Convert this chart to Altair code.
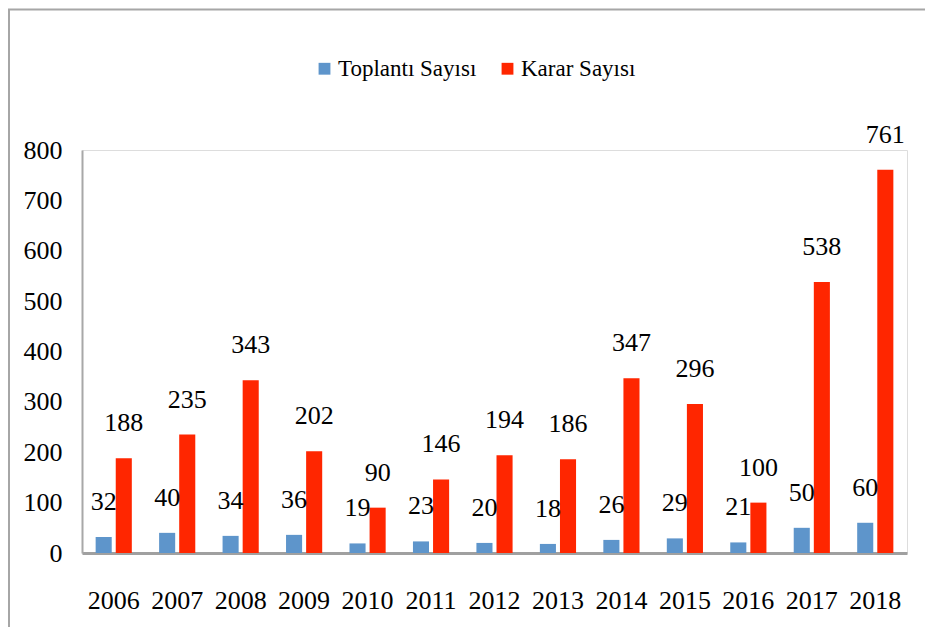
import altair as alt
import pandas as pd

years = ["2006", "2007", "2008", "2009", "2010", "2011", "2012", "2013",
         "2014", "2015", "2016", "2017", "2018"]
toplanti = [32, 40, 34, 36, 19, 23, 20, 18, 26, 29, 21, 50, 60]
karar = [188, 235, 343, 202, 90, 146, 194, 186, 347, 296, 100, 538, 761]
series = ["Toplantı Sayısı", "Karar Sayısı"]
colors = ["#5e95cb", "#ff2600"]
y_ticks = [0, 100, 200, 300, 400, 500, 600, 700, 800]

rows = []
for i, yr in enumerate(years):
    rows.append({"Yıl": yr, "Seri": series[0], "Değer": toplanti[i]})
    rows.append({"Yıl": yr, "Seri": series[1], "Değer": karar[i]})
df = pd.DataFrame(rows)

FONT = "Liberation Serif, serif"
FS = 26
W, H = 825, 403

x = alt.X("Yıl:N", sort=years, title=None,
          scale=alt.Scale(paddingInner=0.43, paddingOuter=0.215),
          axis=alt.Axis(labelAngle=0, ticks=False, labelPadding=34,
                        labelFontSize=FS, labelFont=FONT, labelColor="#000000",
                        domainColor="#a0a0a0", domainWidth=3))
xoff = alt.XOffset("Seri:N", sort=series, scale=alt.Scale(paddingInner=0.2))
y = alt.Y("Değer:Q", title=None,
          scale=alt.Scale(domain=[0, 800], nice=False),
          axis=alt.Axis(values=y_ticks, grid=False, ticks=False, labelPadding=20,
                        labelFontSize=FS, labelFont=FONT, labelColor="#000000",
                        domainColor="#a8a8a8", domainWidth=2))
color = alt.Color("Seri:N", sort=series,
                  scale=alt.Scale(domain=series, range=colors),
                  legend=alt.Legend(title=None, orient="none", direction="horizontal",
                                    legendX=231, legendY=-93,
                                    symbolType="square", symbolSize=140,
                                    symbolStrokeWidth=0, labelOffset=2,
                                    columnPadding=19, labelLimit=400,
                                    labelFontSize=23, labelFont=FONT,
                                    labelColor="#000000"))

base = alt.Chart(df)
bars = base.mark_bar().encode(x=x, xOffset=xoff, y=y, color=color)
labels = base.mark_text(baseline="alphabetic", dy=-27, fontSize=FS,
                        font=FONT, color="#000000").encode(
    x=alt.X("Yıl:N", sort=years), xOffset=alt.XOffset("Seri:N", sort=series),
    y="Değer:Q", text="Değer:Q")

frame_top = alt.Chart(pd.DataFrame({"k": [0]})).mark_rule(
    color="#a6a6a6", strokeWidth=2).encode(
    x=alt.value(-76), x2=alt.value(843), y=alt.value(-140.5))
frame_left = alt.Chart(pd.DataFrame({"k": [0]})).mark_rule(
    color="#a6a6a6", strokeWidth=2).encode(
    x=alt.value(-73), y=alt.value(-141), y2=alt.value(477))

chart = alt.layer(bars, labels, frame_top, frame_left).properties(
    width=W, height=H,
    autosize=alt.AutoSizeParams(type="none"),
    padding={"left": 74, "top": 142, "right": 18, "bottom": 74},
).configure_view(stroke=None).configure(background="#ffffff")

chart.save("out.html", embed_options={"renderer": "svg", "actions": False})
